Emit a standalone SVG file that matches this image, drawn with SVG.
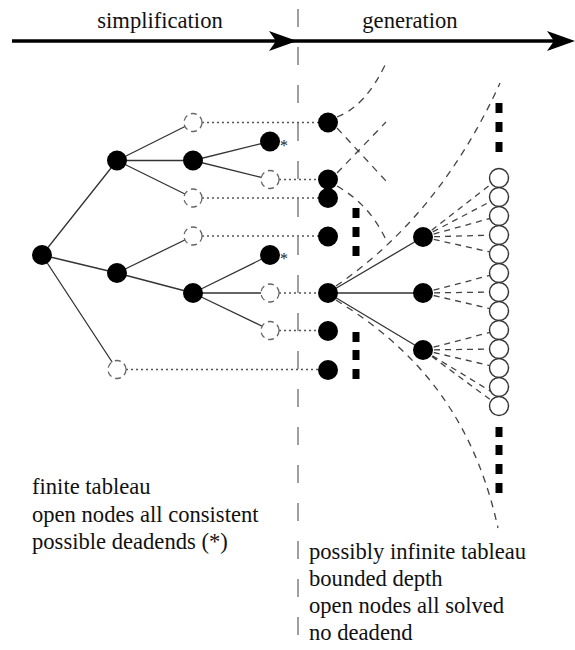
<svg xmlns="http://www.w3.org/2000/svg" xmlns:xlink="http://www.w3.org/1999/xlink" width="575" height="650" viewBox="0 0 575 650">
<style>
.lbl{font-family:'Liberation Serif','DejaVu Serif',serif;font-size:22.6px;fill:#111;}
.star{font-family:'Liberation Serif','DejaVu Serif',serif;font-size:16px;fill:#222;}
.fill{fill:#000;}
.open{fill:#fff;stroke:#666;stroke-width:1.3;stroke-dasharray:6 4;}
.leaf{fill:#fff;stroke:#333;stroke-width:1.4;}
.edge{stroke:#333;stroke-width:1.3;fill:none;}
.dot{stroke:#555;stroke-width:1.3;stroke-dasharray:2 3;fill:none;}
.dash{stroke:#444;stroke-width:1.3;stroke-dasharray:7 6;fill:none;}
.fan{stroke:#444;stroke-width:1.3;stroke-dasharray:6 5;fill:none;}
.sep{stroke:#888;stroke-width:1.6;stroke-dasharray:18 20;fill:none;}
.sq{fill:#000;}
</style>
<defs>
<path id="head" d="M0,0 L-28,-10 L-21,0 L-28,10 Z" fill="#000"/>
<rect id="s" x="-3.5" y="-5" width="7" height="10"/>
</defs>

<g id="separator"><path class="sep" d="M298,9 V650"/></g>

<g id="timeline">
<path d="M12,41 H280" stroke="#000" stroke-width="3.5"/>
<use xlink:href="#head" x="297" y="41"/>
<path d="M290,41 H560" stroke="#000" stroke-width="3.5"/>
<use xlink:href="#head" x="575" y="41"/>
<text class="lbl" x="160" y="28" text-anchor="middle">simplification</text>
<text class="lbl" x="410" y="28" text-anchor="middle">generation</text>
</g>

<g id="connectors">
<path class="edge" d="M42,255 L117,160.5 M42,255 L117,273 M42,255 L117,369.5"/>
<path class="edge" d="M117,160.5 L193,122.5 M117,160.5 L193,160.5 M117,160.5 L193,198"/>
<path class="edge" d="M193,160.5 L270,141.5 M193,160.5 L270,179.5"/>
<path class="edge" d="M117,273 L193,236 M117,273 L193,293"/>
<path class="edge" d="M193,293 L270,255 M193,293 L270,293 M193,293 L270,330"/>
<path class="dot" d="M202,122.5 H328 M279,179.5 H328 M202,198 H328 M202,236 H328 M279,293 H328 M279,330.5 H328 M126,369.5 H328"/>
<path class="edge" d="M328,293 L423,237 M328,293 L423,293 M328,293 L423,350"/>
<path class="dash" d="M337,117 Q366,106 386,63"/>
<path class="dash" d="M337,128 L386,181"/>
<path class="dash" d="M337,173 L386,122"/>
<path class="dash" d="M337,186 Q370,205 386,240"/>
<path class="dash" d="M336,286 Q440,215 500,83"/>
<path class="dash" d="M336,300 C400,340 470,400 498,528"/>
<path class="fan" d="M423,237 L491.5,183.8 M423,237 L490.6,201.4 M423,237 L489.8,218.5 M423,237 L489.5,235.2 M423,237 L489.7,251.9"/>
<path class="fan" d="M423,293 L489.8,275.4 M423,293 L489.5,292.1 M423,293 L489.8,308.6"/>
<path class="fan" d="M423,350 L489.8,332.4 M423,350 L489.5,349.1 M423,350 L489.8,365.6 M423,350 L490.5,391.2 M423,350 L491.4,400.4"/>
</g>

<g id="n-root"><circle class="fill" cx="42" cy="255" r="10"/></g>
<g id="n-a"><circle class="fill" cx="117" cy="160.5" r="10"/></g>
<g id="n-b"><circle class="fill" cx="117" cy="273" r="10"/></g>
<g id="n-a1"><circle class="open" cx="193" cy="122.5" r="9"/></g>
<g id="n-a2"><circle class="fill" cx="193" cy="160.5" r="10"/></g>
<g id="n-a3"><circle class="open" cx="193" cy="198" r="9"/></g>
<g id="n-a21"><circle class="fill" cx="270" cy="141.5" r="10"/><text class="star" x="280" y="151">*</text></g>
<g id="n-a22"><circle class="open" cx="270" cy="179.5" r="9"/></g>
<g id="n-b1"><circle class="open" cx="193" cy="236" r="9"/></g>
<g id="n-b2"><circle class="fill" cx="193" cy="293" r="10"/></g>
<g id="n-b21"><circle class="fill" cx="270" cy="255" r="10"/><text class="star" x="280" y="264">*</text></g>
<g id="n-b22"><circle class="open" cx="270" cy="293" r="9"/></g>
<g id="n-b23"><circle class="open" cx="270" cy="330.5" r="9"/></g>
<g id="n-c"><circle class="open" cx="117" cy="369.5" r="9"/></g>

<g id="g-col">
<circle class="fill" cx="328" cy="122.5" r="10"/>
<circle class="fill" cx="328" cy="179.5" r="10"/>
<circle class="fill" cx="328" cy="198" r="10"/>
<circle class="fill" cx="328" cy="236.5" r="10"/>
<circle class="fill" cx="328" cy="293" r="10"/>
<circle class="fill" cx="328" cy="331" r="10"/>
<circle class="fill" cx="328" cy="370" r="10"/>
</g>
<g id="g-mid">
<circle class="fill" cx="423" cy="237" r="10"/>
<circle class="fill" cx="423" cy="293" r="10"/>
<circle class="fill" cx="423" cy="350" r="10"/>
</g>
<g id="g-leaves">
<circle class="leaf" cx="499" cy="178" r="9.5"/>
<circle class="leaf" cx="499" cy="197" r="9.5"/>
<circle class="leaf" cx="499" cy="216" r="9.5"/>
<circle class="leaf" cx="499" cy="235" r="9.5"/>
<circle class="leaf" cx="499" cy="254" r="9.5"/>
<circle class="leaf" cx="499" cy="273" r="9.5"/>
<circle class="leaf" cx="499" cy="292" r="9.5"/>
<circle class="leaf" cx="499" cy="311" r="9.5"/>
<circle class="leaf" cx="499" cy="330" r="9.5"/>
<circle class="leaf" cx="499" cy="349" r="9.5"/>
<circle class="leaf" cx="499" cy="368" r="9.5"/>
<circle class="leaf" cx="499" cy="387" r="9.5"/>
<circle class="leaf" cx="499" cy="406" r="9.5"/>
</g>
<g id="ellipses" class="sq">
<use xlink:href="#s" x="499" y="108"/><use xlink:href="#s" x="499" y="127"/><use xlink:href="#s" x="499" y="147"/>
<use xlink:href="#s" x="356" y="213"/><use xlink:href="#s" x="356" y="232"/><use xlink:href="#s" x="356" y="251"/>
<use xlink:href="#s" x="356" y="337"/><use xlink:href="#s" x="356" y="355"/><use xlink:href="#s" x="356" y="374"/>
<use xlink:href="#s" x="499" y="432"/><use xlink:href="#s" x="499" y="450"/><use xlink:href="#s" x="499" y="469"/><use xlink:href="#s" x="499" y="488"/>
</g>

<g id="left-notes">
<text class="lbl" x="32" y="494">finite tableau</text>
<text class="lbl" x="32" y="522">open nodes all consistent</text>
<text class="lbl" x="32" y="549">possible deadends (*)</text>
</g>
<g id="right-notes">
<text class="lbl" x="309" y="559">possibly infinite tableau</text>
<text class="lbl" x="309" y="586">bounded depth</text>
<text class="lbl" x="309" y="613">open nodes all solved</text>
<text class="lbl" x="309" y="640">no deadend</text>
</g>
</svg>
